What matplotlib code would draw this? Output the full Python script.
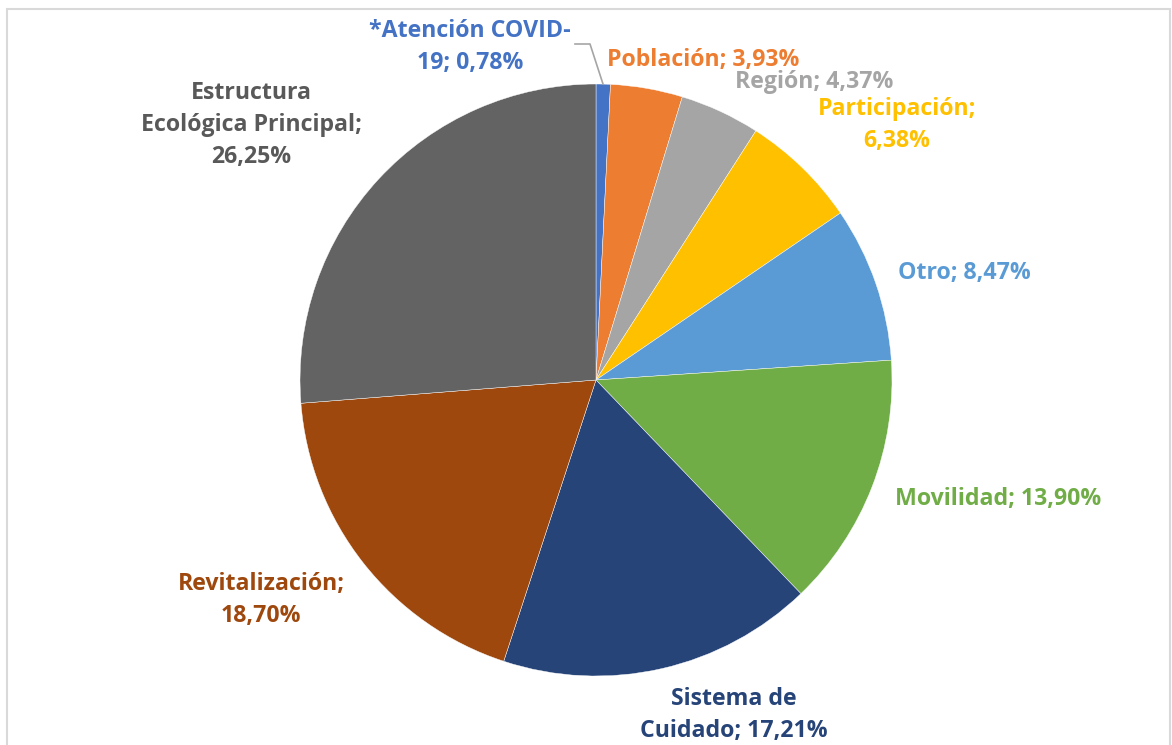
import matplotlib.pyplot as plt
from matplotlib.patches import Rectangle

categories = ["*Atención COVID-19", "Población", "Región", "Participación", "Otro",
              "Movilidad", "Sistema de Cuidado", "Revitalización",
              "Estructura Ecológica Principal"]
values = [0.78, 3.93, 4.37, 6.38, 8.47, 13.90, 17.21, 18.70, 26.25]
colors = ["#4472C4", "#ED7D31", "#A5A5A5", "#FFC000", "#5B9BD5",
          "#70AD47", "#264478", "#9E480E", "#636363"]
label_texts = ["*Atención COVID-\n19; 0,78%", "Población; 3,93%", "Región; 4,37%",
               "Participación;\n6,38%", "Otro; 8,47%", "Movilidad; 13,90%",
               "Sistema de\nCuidado; 17,21%", "Revitalización;\n18,70%",
               "Estructura\nEcológica Principal;\n26,25%"]
label_colors = ["#4472C4", "#ED7D31", "#A5A5A5", "#FFC000", "#5B9BD5",
                "#70AD47", "#264478", "#9E480E", "#595959"]
# label centres in pixels (x, y from top)
label_pos = [(470, 47), (703, 60), (814, 82), (897, 125), (964, 273),
             (998, 499), (734, 715), (261, 600), (251, 125)]

W, H = 1172, 745
fig = plt.figure(figsize=(W / 100, H / 100), dpi=100)
ax = fig.add_axes([0, 0, 1, 1])

ax.add_patch(Rectangle((7, -5), 1163, H - 9 + 5, fill=False, ec="#D9D9D9", lw=1.5))

ax.pie(values, colors=colors, startangle=90, counterclock=False,
       center=(596, H - 380), radius=296, frame=True,
       wedgeprops=dict(linewidth=0.3, edgecolor="white"))
ax.set_xlim(0, W)
ax.set_ylim(0, H)
ax.set_aspect("equal")
ax.axis("off")

for txt, col, (x, y) in zip(label_texts, label_colors, label_pos):
    ax.text(x, H - y, txt, color=col, ha="center", va="center", fontsize=16.7,
            fontweight="bold", family="Open Sans", linespacing=1.42)

# leader line for the small COVID slice
ax.plot([575, 590, 603], [H - 44, H - 44, H - 84], color="#A5A5A5", lw=1.2)

fig.savefig("out.png", dpi=100)
